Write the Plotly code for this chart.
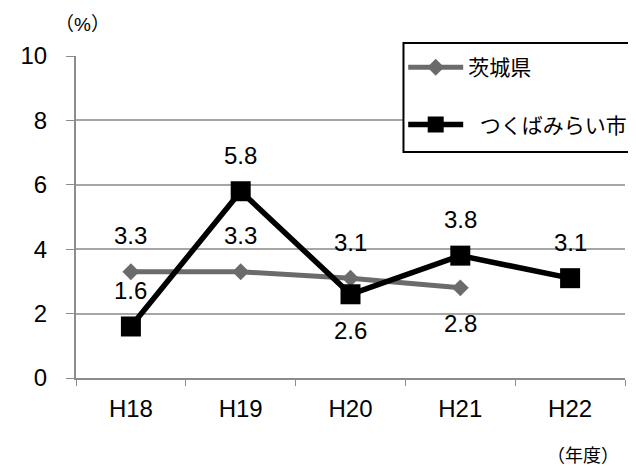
import plotly.graph_objects as go

categories = ["H18", "H19", "H20", "H21", "H22"]
ibaraki = [3.3, 3.3, 3.1, 2.8]
tsukuba = [1.6, 5.8, 2.6, 3.8, 3.1]
ibaraki_label_pos = [1, 1, 1, -1]
tsukuba_label_pos = [1, 1, -1, 1, 1]
y_ticks = [0, 2, 4, 6, 8, 10]

FONT = "Liberation Sans, Noto Sans CJK JP, sans-serif"

fig = go.Figure()
fig.add_trace(go.Scatter(
    x=categories[:len(ibaraki)], y=ibaraki, name="茨城県", mode="lines+markers",
    line=dict(color="#6b6b6b", width=5),
    marker=dict(symbol="diamond", size=13, color="#6b6b6b"),
    legendgroup="a",
))
fig.add_trace(go.Scatter(
    x=categories, y=tsukuba, name="\u00a0\u00a0つくばみらい市", mode="lines+markers",
    line=dict(color="#000000", width=5.5),
    marker=dict(symbol="square", size=20, color="#000000"),
    legendgroup="b",
))

for xs, ys, ps in [(categories, ibaraki, ibaraki_label_pos), (categories, tsukuba, tsukuba_label_pos)]:
    for x, y, p in zip(xs, ys, ps):
        fig.add_annotation(x=x, y=y, text=f"{y:.1f}", showarrow=False,
                           yshift=36 * p, font=dict(size=24, color="#000"))

fig.add_annotation(xref="paper", yref="paper", x=0.012, y=1.099, text="（%）",
                   xanchor="center", yanchor="middle",
                   showarrow=False, font=dict(size=19, color="#000"))
fig.add_annotation(xref="paper", yref="paper", x=0.923, y=-0.242, text="（年度）",
                   xanchor="center", yanchor="middle",
                   showarrow=False, font=dict(size=18, color="#000"))

# legend frame
fig.add_shape(type="rect", xref="paper", yref="paper",
              x0=0.5965, x1=1.03, y0=0.7019, y1=1.0404,
              fillcolor="white", line=dict(color="#000", width=2), layer="above")

fig.update_layout(
    width=636, height=469,
    margin=dict(l=52, r=14, t=48, b=99),
    paper_bgcolor="white", plot_bgcolor="white",
    font=dict(family=FONT, size=24, color="#000"),
    showlegend=True,
    legend=dict(
        x=0.596, y=1.0276, xanchor="left", yanchor="top",
        bgcolor="rgba(0,0,0,0)", borderwidth=0,
        font=dict(size=21), traceorder="grouped", tracegroupgap=27,
        itemwidth=55,
    ),
    xaxis=dict(
        type="category", range=[-0.5, 4.5], tickson="boundaries",
        ticks="outside", ticklen=6, tickcolor="#8c8c8c",
        showline=True, linecolor="#8c8c8c", linewidth=2,
        showgrid=False, tickfont=dict(size=24), ticklabelstandoff=8,
    ),
    yaxis=dict(
        range=[0, 10], tickvals=y_ticks, ticks="outside", ticklen=8,
        tickcolor="#8c8c8c", showline=True, linecolor="#8c8c8c", linewidth=2,
        gridcolor="#a6a6a6", gridwidth=2, zeroline=False,
        tickfont=dict(size=24), ticklabelstandoff=14,
    ),
)

fig.write_html("out.html")
